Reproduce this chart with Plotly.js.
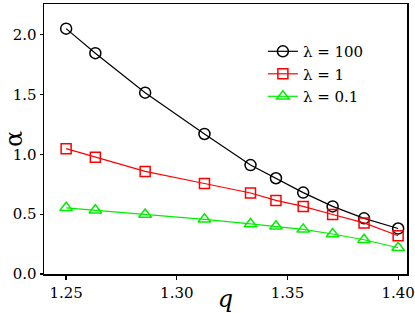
<!DOCTYPE html>
<html>
<head>
<meta charset="utf-8">
<script src="https://cdn.plot.ly/plotly-3.0.1.min.js"></script>
<style>html,body{margin:0;padding:0;background:#fff;}#chart{width:415px;height:313px;}</style>
</head>
<body>
<div id="chart"></div>
<script>
const q = [1.25, 1.2632, 1.2857, 1.3125, 1.3333, 1.3448, 1.3571, 1.3704, 1.3846, 1.40];
const alphaLambda100 = [2.05, 1.845, 1.515, 1.17, 0.91, 0.80, 0.68, 0.565, 0.465, 0.38];
const alphaLambda1 = [1.047, 0.975, 0.857, 0.756, 0.677, 0.615, 0.565, 0.497, 0.427, 0.32];
const alphaLambda01 = [0.553, 0.533, 0.497, 0.457, 0.418, 0.399, 0.373, 0.334, 0.286, 0.219];
const seriesNames = ['λ = 100', 'λ = 1', 'λ = 0.1'];

const font = 'DejaVu Serif';
function tr(y, name, color, symbol, size) {
  return {
    x: q, y: y, name: name, type: 'scatter', mode: 'lines+markers',
    line: {color: color, width: 1.2},
    marker: {symbol: symbol, size: size, color: color, line: {color: color, width: 1.5}}
  };
}
const data = [
  tr(alphaLambda100, seriesNames[0], '#000000', 'circle-open', 11),
  tr(alphaLambda1, seriesNames[1], '#ff0000', 'square-open', 10),
  tr(alphaLambda01, seriesNames[2], '#00ee00', 'triangle-up-open', 11)
];
const layout = {
  width: 415, height: 313,
  margin: {l: 44, r: 8, t: 4, b: 39},
  paper_bgcolor: '#fff', plot_bgcolor: '#fff',
  font: {family: font, color: '#000', size: 15},
  xaxis: {
    showgrid: false, zeroline: false, showline: true, linecolor: 'black', linewidth: 1.5,
    mirror: true, ticks: 'outside', ticklen: 4, tickwidth: 1.3, tickcolor: 'black',
    tickfont: {family: font, size: 15, color: '#000'},
    range: [1.24, 1.404], tick0: 1.25, dtick: 0.05, tickformat: '.2f',
    title: {text: '<i>q</i>', font: {family: font, size: 24, color: '#000'}, standoff: 0}
  },
  yaxis: {
    showgrid: false, zeroline: false, showline: true, linecolor: 'black', linewidth: 1.5,
    mirror: true, ticks: 'outside', ticklen: 3, tickwidth: 1.3, tickcolor: 'black',
    tickfont: {family: font, size: 15, color: '#000'},
    range: [0, 2.256], tick0: 0, dtick: 0.5, tickformat: '.1f',
    title: {text: 'α', font: {family: font, size: 24, color: '#000'}, standoff: 2}
  },
  legend: {
    x: 0.603, y: 0.885, xanchor: 'left', yanchor: 'top',
    bgcolor: 'rgba(0,0,0,0)', borderwidth: 0,
    font: {family: font, size: 15, color: '#000'},
    tracegroupgap: 0, itemwidth: 30
  },
  showlegend: true
};
Plotly.newPlot('chart', data, layout, {staticPlot: true, displayModeBar: false});
</script>
</body>
</html>
